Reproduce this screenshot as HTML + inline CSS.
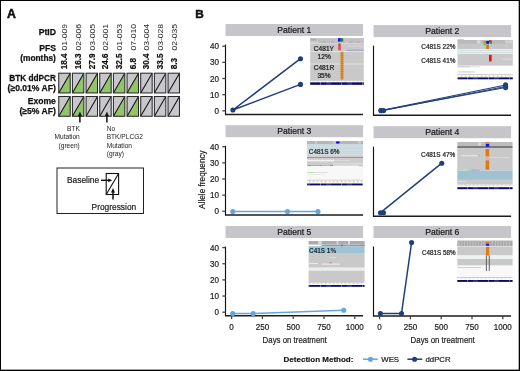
<!DOCTYPE html><html><head><meta charset="utf-8"><style>html,body{margin:0;padding:0;background:#fff;}body{width:520px;height:371px;overflow:hidden;}svg{display:block;will-change:transform;}text{font-family:"Liberation Sans",sans-serif;}</style></head><body>
<svg width="520" height="371" viewBox="0 0 520 371">
<rect x="0" y="0" width="520" height="371" fill="#fff"/>
<text x="7.0" y="17.5" font-size="12.3" font-weight="bold" fill="#111" stroke="#111" stroke-width="0.5">A</text>
<text transform="translate(55.9,35.4) scale(1.0,1)" font-size="8.6" font-weight="bold" text-anchor="end" fill="#111" stroke="#111" stroke-width="0.25">PtID</text>
<text transform="translate(55.9,51.4) scale(1.0,1)" font-size="8.6" font-weight="bold" text-anchor="end" fill="#111" stroke="#111" stroke-width="0.25">PFS</text>
<text transform="translate(55.9,61.0) scale(0.97,1)" font-size="8.6" font-weight="bold" text-anchor="end" fill="#111" stroke="#111" stroke-width="0.25">(months)</text>
<text transform="translate(55.9,80.6) scale(0.96,1)" font-size="8.6" font-weight="bold" text-anchor="end" fill="#111" stroke="#111" stroke-width="0.25">BTK ddPCR</text>
<text transform="translate(55.9,90.8) scale(1.0,1)" font-size="8.6" font-weight="bold" text-anchor="end" fill="#111" stroke="#111" stroke-width="0.25">(≥0.01% AF)</text>
<text transform="translate(55.9,103.8) scale(1.0,1)" font-size="8.6" font-weight="bold" text-anchor="end" fill="#111" stroke="#111" stroke-width="0.25">Exome</text>
<text transform="translate(55.9,113.5) scale(1.0,1)" font-size="8.6" font-weight="bold" text-anchor="end" fill="#111" stroke="#111" stroke-width="0.25">(≥5% AF)</text>
<rect x="58.75" y="73.20" width="11.45" height="19.75" fill="#c8c7cc"/><path d="M58.75 92.95 L70.20 73.20 L70.20 92.95 Z" fill="#92c469"/><path d="M58.75 92.95 L70.20 73.20" stroke="#111" stroke-width="1.05"/><rect x="58.75" y="73.20" width="11.45" height="19.75" fill="none" stroke="#2a2a2a" stroke-width="1.05"/>
<rect x="58.75" y="96.50" width="11.45" height="19.75" fill="#c8c7cc"/><path d="M58.75 116.25 L70.20 96.50 L70.20 116.25 Z" fill="#92c469"/><path d="M58.75 116.25 L70.20 96.50" stroke="#111" stroke-width="1.05"/><rect x="58.75" y="96.50" width="11.45" height="19.75" fill="none" stroke="#2a2a2a" stroke-width="1.05"/>
<text transform="translate(67.22,69.3) rotate(-90)" font-size="8.2" font-weight="bold" fill="#111" stroke="#111" stroke-width="0.2">18.4</text>
<text transform="translate(67.22,23.9) rotate(-90) scale(1.06,1)" font-size="8.1" text-anchor="end" fill="#262626">01-009</text>
<rect x="72.41" y="73.20" width="11.45" height="19.75" fill="#c8c7cc"/><path d="M72.41 92.95 L83.86 73.20 L83.86 92.95 Z" fill="#92c469"/><path d="M72.41 92.95 L83.86 73.20" stroke="#111" stroke-width="1.05"/><rect x="72.41" y="73.20" width="11.45" height="19.75" fill="none" stroke="#2a2a2a" stroke-width="1.05"/>
<rect x="72.41" y="96.50" width="11.45" height="19.75" fill="#c8c7cc"/><path d="M72.41 116.25 L83.86 96.50 L83.86 116.25 Z" fill="#92c469"/><path d="M72.41 116.25 L83.86 96.50" stroke="#111" stroke-width="1.05"/><rect x="72.41" y="96.50" width="11.45" height="19.75" fill="none" stroke="#2a2a2a" stroke-width="1.05"/>
<text transform="translate(80.88,69.3) rotate(-90)" font-size="8.2" font-weight="bold" fill="#111" stroke="#111" stroke-width="0.2">16.3</text>
<text transform="translate(80.88,23.9) rotate(-90) scale(1.06,1)" font-size="8.1" text-anchor="end" fill="#262626">02-006</text>
<rect x="86.07" y="73.20" width="11.45" height="19.75" fill="#c8c7cc"/><path d="M86.07 92.95 L97.52 73.20 L97.52 92.95 Z" fill="#92c469"/><path d="M86.07 92.95 L97.52 73.20" stroke="#111" stroke-width="1.05"/><rect x="86.07" y="73.20" width="11.45" height="19.75" fill="none" stroke="#2a2a2a" stroke-width="1.05"/>
<rect x="86.07" y="96.50" width="11.45" height="19.75" fill="#c8c7cc"/><path d="M86.07 116.25 L97.52 96.50" stroke="#111" stroke-width="1.05"/><rect x="86.07" y="96.50" width="11.45" height="19.75" fill="none" stroke="#2a2a2a" stroke-width="1.05"/>
<text transform="translate(94.54,69.3) rotate(-90)" font-size="8.2" font-weight="bold" fill="#111" stroke="#111" stroke-width="0.2">27.9</text>
<text transform="translate(94.54,23.9) rotate(-90) scale(1.06,1)" font-size="8.1" text-anchor="end" fill="#262626">03-005</text>
<rect x="99.73" y="73.20" width="11.45" height="19.75" fill="#c8c7cc"/><path d="M99.73 92.95 L111.18 73.20 L111.18 92.95 Z" fill="#92c469"/><path d="M99.73 92.95 L111.18 73.20" stroke="#111" stroke-width="1.05"/><rect x="99.73" y="73.20" width="11.45" height="19.75" fill="none" stroke="#2a2a2a" stroke-width="1.05"/>
<rect x="99.73" y="96.50" width="11.45" height="19.75" fill="#c8c7cc"/><path d="M99.73 116.25 L111.18 96.50" stroke="#111" stroke-width="1.05"/><rect x="99.73" y="96.50" width="11.45" height="19.75" fill="none" stroke="#2a2a2a" stroke-width="1.05"/>
<text transform="translate(108.20,69.3) rotate(-90)" font-size="8.2" font-weight="bold" fill="#111" stroke="#111" stroke-width="0.2">24.6</text>
<text transform="translate(108.20,23.9) rotate(-90) scale(1.06,1)" font-size="8.1" text-anchor="end" fill="#262626">02-001</text>
<rect x="113.39" y="73.20" width="11.45" height="19.75" fill="#c8c7cc"/><path d="M113.39 92.95 L124.84 73.20 L124.84 92.95 Z" fill="#92c469"/><path d="M113.39 92.95 L124.84 73.20" stroke="#111" stroke-width="1.05"/><rect x="113.39" y="73.20" width="11.45" height="19.75" fill="none" stroke="#2a2a2a" stroke-width="1.05"/>
<rect x="113.39" y="96.50" width="11.45" height="19.75" fill="#c8c7cc"/><path d="M113.39 116.25 L124.84 96.50 L124.84 116.25 Z" fill="#92c469"/><path d="M113.39 116.25 L124.84 96.50" stroke="#111" stroke-width="1.05"/><rect x="113.39" y="96.50" width="11.45" height="19.75" fill="none" stroke="#2a2a2a" stroke-width="1.05"/>
<text transform="translate(121.86,69.3) rotate(-90)" font-size="8.2" font-weight="bold" fill="#111" stroke="#111" stroke-width="0.2">32.5</text>
<text transform="translate(121.86,23.9) rotate(-90) scale(1.06,1)" font-size="8.1" text-anchor="end" fill="#262626">01-053</text>
<rect x="127.05" y="73.20" width="11.45" height="19.75" fill="#c8c7cc"/><path d="M127.05 92.95 L138.50 73.20 L138.50 92.95 Z" fill="#92c469"/><path d="M127.05 92.95 L138.50 73.20" stroke="#111" stroke-width="1.05"/><rect x="127.05" y="73.20" width="11.45" height="19.75" fill="none" stroke="#2a2a2a" stroke-width="1.05"/>
<rect x="127.05" y="96.50" width="11.45" height="19.75" fill="#c8c7cc"/><path d="M127.05 116.25 L138.50 96.50 L138.50 116.25 Z" fill="#92c469"/><path d="M127.05 116.25 L138.50 96.50" stroke="#111" stroke-width="1.05"/><rect x="127.05" y="96.50" width="11.45" height="19.75" fill="none" stroke="#2a2a2a" stroke-width="1.05"/>
<text transform="translate(135.53,69.3) rotate(-90)" font-size="8.2" font-weight="bold" fill="#111" stroke="#111" stroke-width="0.2">6.8</text>
<text transform="translate(135.53,23.9) rotate(-90) scale(1.06,1)" font-size="8.1" text-anchor="end" fill="#262626">07-010</text>
<rect x="140.71" y="73.20" width="11.45" height="19.75" fill="#c8c7cc"/><path d="M140.71 92.95 L152.16 73.20" stroke="#111" stroke-width="1.05"/><rect x="140.71" y="73.20" width="11.45" height="19.75" fill="none" stroke="#2a2a2a" stroke-width="1.05"/>
<rect x="140.71" y="96.50" width="11.45" height="19.75" fill="#c8c7cc"/><path d="M140.71 116.25 L152.16 96.50" stroke="#111" stroke-width="1.05"/><rect x="140.71" y="96.50" width="11.45" height="19.75" fill="none" stroke="#2a2a2a" stroke-width="1.05"/>
<text transform="translate(149.19,69.3) rotate(-90)" font-size="8.2" font-weight="bold" fill="#111" stroke="#111" stroke-width="0.2">30.4</text>
<text transform="translate(149.19,23.9) rotate(-90) scale(1.06,1)" font-size="8.1" text-anchor="end" fill="#262626">03-004</text>
<rect x="154.37" y="73.20" width="11.45" height="19.75" fill="#c8c7cc"/><path d="M154.37 92.95 L165.82 73.20" stroke="#111" stroke-width="1.05"/><rect x="154.37" y="73.20" width="11.45" height="19.75" fill="none" stroke="#2a2a2a" stroke-width="1.05"/>
<rect x="154.37" y="96.50" width="11.45" height="19.75" fill="#c8c7cc"/><path d="M154.37 116.25 L165.82 96.50" stroke="#111" stroke-width="1.05"/><rect x="154.37" y="96.50" width="11.45" height="19.75" fill="none" stroke="#2a2a2a" stroke-width="1.05"/>
<text transform="translate(162.84,69.3) rotate(-90)" font-size="8.2" font-weight="bold" fill="#111" stroke="#111" stroke-width="0.2">33.5</text>
<text transform="translate(162.84,23.9) rotate(-90) scale(1.06,1)" font-size="8.1" text-anchor="end" fill="#262626">03-028</text>
<rect x="168.03" y="73.20" width="11.45" height="19.75" fill="#c8c7cc"/><path d="M168.03 92.95 L179.48 73.20" stroke="#111" stroke-width="1.05"/><rect x="168.03" y="73.20" width="11.45" height="19.75" fill="none" stroke="#2a2a2a" stroke-width="1.05"/>
<rect x="168.03" y="96.50" width="11.45" height="19.75" fill="#c8c7cc"/><path d="M168.03 116.25 L179.48 96.50" stroke="#111" stroke-width="1.05"/><rect x="168.03" y="96.50" width="11.45" height="19.75" fill="none" stroke="#2a2a2a" stroke-width="1.05"/>
<text transform="translate(176.50,69.3) rotate(-90)" font-size="8.2" font-weight="bold" fill="#111" stroke="#111" stroke-width="0.2">8.3</text>
<text transform="translate(176.50,23.9) rotate(-90) scale(1.06,1)" font-size="8.1" text-anchor="end" fill="#262626">02-035</text>
<path d="M79.9 122.6 L79.9 115.5" stroke="#111" stroke-width="1.5"/><path d="M77.9 116.0 L79.9 111.6 L81.9 116.0 Z" fill="#111"/>
<path d="M106.9 122.6 L106.9 115.5" stroke="#111" stroke-width="1.5"/><path d="M104.9 116.0 L106.9 111.6 L108.9 116.0 Z" fill="#111"/>
<text x="79.8" y="130.9" font-size="6.6" text-anchor="end" fill="#222">BTK</text>
<text x="79.8" y="139.2" font-size="6.6" text-anchor="end" fill="#222">Mutation</text>
<text x="79.8" y="147.5" font-size="6.6" text-anchor="end" fill="#222">(green)</text>
<text x="106.7" y="130.9" font-size="6.6" fill="#222">No</text>
<text x="106.7" y="139.2" font-size="6.6" fill="#222">BTK/PLCG2</text>
<text x="106.7" y="147.5" font-size="6.6" fill="#222">Mutation</text>
<text x="106.7" y="155.8" font-size="6.6" fill="#222">(gray)</text>
<rect x="57" y="168" width="86.5" height="45.5" fill="none" stroke="#222" stroke-width="1"/>
<rect x="106.2" y="173.5" width="12.4" height="21" fill="#fff" stroke="#111" stroke-width="1.1"/>
<path d="M106.2 194.5 L118.6 173.5" stroke="#111" stroke-width="1.1"/>
<text transform="translate(67.0,183.2) scale(0.95,1)" font-size="8.8" fill="#1a1a1a" stroke="#1a1a1a" stroke-width="0.2">Baseline</text>
<path d="M101 180.3 L109 180.3" stroke="#111" stroke-width="1.4"/><path d="M108.2 178.4 L112.3 180.3 L108.2 182.2 Z" fill="#111"/>
<path d="M113 199.5 L113 191.9" stroke="#111" stroke-width="1.5"/><path d="M111.0 192.4 L113 188 L115.0 192.4 Z" fill="#111"/>
<text transform="translate(91.6,209.6) scale(0.95,1)" font-size="8.8" fill="#1a1a1a" stroke="#1a1a1a" stroke-width="0.2">Progression</text>
<text x="195.3" y="17.5" font-size="11.8" font-weight="bold" fill="#111" stroke="#111" stroke-width="0.5">B</text>
<rect x="225.5" y="24" width="137.6" height="12" fill="#c6c5ca"/>
<text x="294.3" y="32.8" font-size="8.6" text-anchor="middle" fill="#141414" stroke="#1a1a1a" stroke-width="0.2">Patient 1</text>
<path d="M225.5 44.5 L225.5 114.8" fill="none" stroke="#111" stroke-width="1.15"/>
<path d="M224.95 114.45 L363.1 114.45" fill="none" stroke="#1c1c1c" stroke-width="1.4"/>
<path d="M222.3 110.80 L225.5 110.80" stroke="#444" stroke-width="1.3"/>
<text transform="translate(219.0,113.90) scale(0.92,1)" font-size="8.8" text-anchor="end" fill="#1a1a1a" stroke="#1a1a1a" stroke-width="0.2">0</text>
<path d="M222.3 94.65 L225.5 94.65" stroke="#444" stroke-width="1.3"/>
<text transform="translate(219.0,97.75) scale(0.92,1)" font-size="8.8" text-anchor="end" fill="#1a1a1a" stroke="#1a1a1a" stroke-width="0.2">10</text>
<path d="M222.3 78.50 L225.5 78.50" stroke="#444" stroke-width="1.3"/>
<text transform="translate(219.0,81.60) scale(0.92,1)" font-size="8.8" text-anchor="end" fill="#1a1a1a" stroke="#1a1a1a" stroke-width="0.2">20</text>
<path d="M222.3 62.35 L225.5 62.35" stroke="#444" stroke-width="1.3"/>
<text transform="translate(219.0,65.45) scale(0.92,1)" font-size="8.8" text-anchor="end" fill="#1a1a1a" stroke="#1a1a1a" stroke-width="0.2">30</text>
<path d="M222.3 46.20 L225.5 46.20" stroke="#444" stroke-width="1.3"/>
<text transform="translate(219.0,49.30) scale(0.92,1)" font-size="8.8" text-anchor="end" fill="#1a1a1a" stroke="#1a1a1a" stroke-width="0.2">40</text>
<rect x="373.5" y="25.1" width="137.6" height="12" fill="#c6c5ca"/>
<text x="442.3" y="33.900000000000006" font-size="8.6" text-anchor="middle" fill="#141414" stroke="#1a1a1a" stroke-width="0.2">Patient 2</text>
<path d="M373.5 45.6 L373.5 115.6" fill="none" stroke="#111" stroke-width="1.15"/>
<path d="M372.95 115.25 L511.1 115.25" fill="none" stroke="#1c1c1c" stroke-width="1.4"/>
<rect x="225.5" y="125.2" width="137.6" height="12" fill="#c6c5ca"/>
<text x="294.3" y="134.0" font-size="8.6" text-anchor="middle" fill="#141414" stroke="#1a1a1a" stroke-width="0.2">Patient 3</text>
<path d="M225.5 145.7 L225.5 215.4" fill="none" stroke="#111" stroke-width="1.15"/>
<path d="M224.95 215.05 L363.1 215.05" fill="none" stroke="#1c1c1c" stroke-width="1.4"/>
<path d="M222.3 211.30 L225.5 211.30" stroke="#444" stroke-width="1.3"/>
<text transform="translate(219.0,214.40) scale(0.92,1)" font-size="8.8" text-anchor="end" fill="#1a1a1a" stroke="#1a1a1a" stroke-width="0.2">0</text>
<path d="M222.3 195.15 L225.5 195.15" stroke="#444" stroke-width="1.3"/>
<text transform="translate(219.0,198.25) scale(0.92,1)" font-size="8.8" text-anchor="end" fill="#1a1a1a" stroke="#1a1a1a" stroke-width="0.2">10</text>
<path d="M222.3 179.00 L225.5 179.00" stroke="#444" stroke-width="1.3"/>
<text transform="translate(219.0,182.10) scale(0.92,1)" font-size="8.8" text-anchor="end" fill="#1a1a1a" stroke="#1a1a1a" stroke-width="0.2">20</text>
<path d="M222.3 162.85 L225.5 162.85" stroke="#444" stroke-width="1.3"/>
<text transform="translate(219.0,165.95) scale(0.92,1)" font-size="8.8" text-anchor="end" fill="#1a1a1a" stroke="#1a1a1a" stroke-width="0.2">30</text>
<path d="M222.3 146.70 L225.5 146.70" stroke="#444" stroke-width="1.3"/>
<text transform="translate(219.0,149.80) scale(0.92,1)" font-size="8.8" text-anchor="end" fill="#1a1a1a" stroke="#1a1a1a" stroke-width="0.2">40</text>
<rect x="373.5" y="126.2" width="137.6" height="12" fill="#c6c5ca"/>
<text x="442.3" y="135.0" font-size="8.6" text-anchor="middle" fill="#141414" stroke="#1a1a1a" stroke-width="0.2">Patient 4</text>
<path d="M373.5 146.7 L373.5 216.6" fill="none" stroke="#111" stroke-width="1.15"/>
<path d="M372.95 216.25 L511.1 216.25" fill="none" stroke="#1c1c1c" stroke-width="1.4"/>
<rect x="225.5" y="226" width="137.6" height="12" fill="#c6c5ca"/>
<text x="294.3" y="234.8" font-size="8.6" text-anchor="middle" fill="#141414" stroke="#1a1a1a" stroke-width="0.2">Patient 5</text>
<path d="M225.5 246.5 L225.5 316.1" fill="none" stroke="#111" stroke-width="1.15"/>
<path d="M224.95 315.75 L363.1 315.75" fill="none" stroke="#1c1c1c" stroke-width="1.4"/>
<path d="M222.3 312.20 L225.5 312.20" stroke="#444" stroke-width="1.3"/>
<text transform="translate(219.0,315.30) scale(0.92,1)" font-size="8.8" text-anchor="end" fill="#1a1a1a" stroke="#1a1a1a" stroke-width="0.2">0</text>
<path d="M222.3 296.05 L225.5 296.05" stroke="#444" stroke-width="1.3"/>
<text transform="translate(219.0,299.15) scale(0.92,1)" font-size="8.8" text-anchor="end" fill="#1a1a1a" stroke="#1a1a1a" stroke-width="0.2">10</text>
<path d="M222.3 279.90 L225.5 279.90" stroke="#444" stroke-width="1.3"/>
<text transform="translate(219.0,283.00) scale(0.92,1)" font-size="8.8" text-anchor="end" fill="#1a1a1a" stroke="#1a1a1a" stroke-width="0.2">20</text>
<path d="M222.3 263.75 L225.5 263.75" stroke="#444" stroke-width="1.3"/>
<text transform="translate(219.0,266.85) scale(0.92,1)" font-size="8.8" text-anchor="end" fill="#1a1a1a" stroke="#1a1a1a" stroke-width="0.2">30</text>
<path d="M222.3 247.60 L225.5 247.60" stroke="#444" stroke-width="1.3"/>
<text transform="translate(219.0,250.70) scale(0.92,1)" font-size="8.8" text-anchor="end" fill="#1a1a1a" stroke="#1a1a1a" stroke-width="0.2">40</text>
<path d="M231.60 315.5 L231.60 319.1" stroke="#444" stroke-width="1.3"/>
<text transform="translate(231.60,329.70) scale(0.92,1)" font-size="8.8" text-anchor="middle" fill="#1a1a1a" stroke="#1a1a1a" stroke-width="0.2">0</text>
<path d="M262.40 315.5 L262.40 319.1" stroke="#444" stroke-width="1.3"/>
<text transform="translate(262.40,329.70) scale(0.92,1)" font-size="8.8" text-anchor="middle" fill="#1a1a1a" stroke="#1a1a1a" stroke-width="0.2">250</text>
<path d="M293.20 315.5 L293.20 319.1" stroke="#444" stroke-width="1.3"/>
<text transform="translate(293.20,329.70) scale(0.92,1)" font-size="8.8" text-anchor="middle" fill="#1a1a1a" stroke="#1a1a1a" stroke-width="0.2">500</text>
<path d="M324.00 315.5 L324.00 319.1" stroke="#444" stroke-width="1.3"/>
<text transform="translate(324.00,329.70) scale(0.92,1)" font-size="8.8" text-anchor="middle" fill="#1a1a1a" stroke="#1a1a1a" stroke-width="0.2">750</text>
<path d="M354.80 315.5 L354.80 319.1" stroke="#444" stroke-width="1.3"/>
<text transform="translate(354.80,329.70) scale(0.92,1)" font-size="8.8" text-anchor="middle" fill="#1a1a1a" stroke="#1a1a1a" stroke-width="0.2">1000</text>
<text transform="translate(294.70,342.6) scale(0.82,1)" font-size="9.6" text-anchor="middle" fill="#1a1a1a" stroke="#1a1a1a" stroke-width="0.2">Days on treatment</text>
<rect x="373.5" y="226" width="137.6" height="12" fill="#c6c5ca"/>
<text x="442.3" y="234.8" font-size="8.6" text-anchor="middle" fill="#141414" stroke="#1a1a1a" stroke-width="0.2">Patient 6</text>
<path d="M373.5 246.5 L373.5 316.3" fill="none" stroke="#111" stroke-width="1.15"/>
<path d="M372.95 315.95 L511.1 315.95" fill="none" stroke="#1c1c1c" stroke-width="1.4"/>
<path d="M379.60 315.7 L379.60 319.3" stroke="#444" stroke-width="1.3"/>
<text transform="translate(379.60,329.90) scale(0.92,1)" font-size="8.8" text-anchor="middle" fill="#1a1a1a" stroke="#1a1a1a" stroke-width="0.2">0</text>
<path d="M410.40 315.7 L410.40 319.3" stroke="#444" stroke-width="1.3"/>
<text transform="translate(410.40,329.90) scale(0.92,1)" font-size="8.8" text-anchor="middle" fill="#1a1a1a" stroke="#1a1a1a" stroke-width="0.2">250</text>
<path d="M441.20 315.7 L441.20 319.3" stroke="#444" stroke-width="1.3"/>
<text transform="translate(441.20,329.90) scale(0.92,1)" font-size="8.8" text-anchor="middle" fill="#1a1a1a" stroke="#1a1a1a" stroke-width="0.2">500</text>
<path d="M472.00 315.7 L472.00 319.3" stroke="#444" stroke-width="1.3"/>
<text transform="translate(472.00,329.90) scale(0.92,1)" font-size="8.8" text-anchor="middle" fill="#1a1a1a" stroke="#1a1a1a" stroke-width="0.2">750</text>
<path d="M502.80 315.7 L502.80 319.3" stroke="#444" stroke-width="1.3"/>
<text transform="translate(502.80,329.90) scale(0.92,1)" font-size="8.8" text-anchor="middle" fill="#1a1a1a" stroke="#1a1a1a" stroke-width="0.2">1000</text>
<text transform="translate(442.70,342.6) scale(0.82,1)" font-size="9.6" text-anchor="middle" fill="#1a1a1a" stroke="#1a1a1a" stroke-width="0.2">Days on treatment</text>
<text transform="translate(204.5,179.6) rotate(-90) scale(0.86,1)" font-size="9.6" text-anchor="middle" fill="#1a1a1a" stroke="#1a1a1a" stroke-width="0.2">Allele frequency</text>
<path d="M300.50 58.70 L232.90 110.00 L300.50 84.40" fill="none" stroke="#1f3f7b" stroke-width="1.5"/><circle cx="300.50" cy="58.70" r="2.55" fill="#1f3f7b"/><circle cx="232.90" cy="110.00" r="2.55" fill="#1f3f7b"/><circle cx="300.50" cy="84.40" r="2.55" fill="#1f3f7b"/>
<path d="M381.00 110.60 L505.60 84.90" fill="none" stroke="#1f3f7b" stroke-width="1.05"/><circle cx="381.00" cy="110.60" r="2.55" fill="#1f3f7b"/><circle cx="505.60" cy="84.90" r="2.55" fill="#1f3f7b"/>
<path d="M383.60 110.60 L505.60 86.40" fill="none" stroke="#1f3f7b" stroke-width="1.05"/><circle cx="383.60" cy="110.60" r="2.55" fill="#1f3f7b"/><circle cx="505.60" cy="86.40" r="2.55" fill="#1f3f7b"/>
<path d="M381.00 110.60 L505.60 87.60" fill="none" stroke="#1f3f7b" stroke-width="1.05"/><circle cx="381.00" cy="110.60" r="2.55" fill="#1f3f7b"/><circle cx="505.60" cy="87.60" r="2.55" fill="#1f3f7b"/>
<path d="M232.70 211.50 L287.50 211.50 L318.00 211.50" fill="none" stroke="#62a6de" stroke-width="1.5"/><circle cx="232.70" cy="211.50" r="2.55" fill="#62a6de"/><circle cx="287.50" cy="211.50" r="2.55" fill="#62a6de"/><circle cx="318.00" cy="211.50" r="2.55" fill="#62a6de"/>
<path d="M380.50 212.70 L441.80 163.20" fill="none" stroke="#1f3f7b" stroke-width="1.5"/><circle cx="380.50" cy="212.70" r="2.55" fill="#1f3f7b"/><circle cx="441.80" cy="163.20" r="2.55" fill="#1f3f7b"/>
<path d="M383.50 212.70" fill="none" stroke="#1f3f7b" stroke-width="1.5"/><circle cx="383.50" cy="212.70" r="2.55" fill="#1f3f7b"/>
<path d="M232.70 313.50 L253.20 313.50 L343.80 310.20" fill="none" stroke="#62a6de" stroke-width="1.5"/><circle cx="232.70" cy="313.50" r="2.55" fill="#62a6de"/><circle cx="253.20" cy="313.50" r="2.55" fill="#62a6de"/><circle cx="343.80" cy="310.20" r="2.55" fill="#62a6de"/>
<path d="M380.40 313.50 L401.50 313.50 L411.60 242.50" fill="none" stroke="#1f3f7b" stroke-width="1.5"/><circle cx="380.40" cy="313.50" r="2.55" fill="#1f3f7b"/><circle cx="401.50" cy="313.50" r="2.55" fill="#1f3f7b"/><circle cx="411.60" cy="242.50" r="2.55" fill="#1f3f7b"/>
<text x="283.6" y="361.9" font-size="8" font-weight="bold" fill="#111" stroke="#111" stroke-width="0.15">Detection Method:</text>
<path d="M363 359.2 L377.7 359.2" stroke="#62a6de" stroke-width="1.5"/><circle cx="370.5" cy="359.2" r="2.55" fill="#62a6de"/>
<text x="381.3" y="361.9" font-size="7.8" fill="#1a1a1a" stroke="#1a1a1a" stroke-width="0.2">WES</text>
<path d="M407.4 359.2 L422.3 359.2" stroke="#1f3f7b" stroke-width="1.5"/><circle cx="414.6" cy="359.2" r="2.55" fill="#1f3f7b"/>
<text x="425.5" y="361.9" font-size="7.8" fill="#1a1a1a" stroke="#1a1a1a" stroke-width="0.2">ddPCR</text>
<defs><pattern id="dots" x="0" y="0" width="16" height="3" patternUnits="userSpaceOnUse"><rect width="16" height="3" fill="#fbfbf5"/><rect x="0.8" y="0.6" width="1.6" height="1.8" fill="#e6d08c"/><rect x="4.8" y="0.6" width="1.6" height="1.8" fill="#eec0b4"/><rect x="8.8" y="0.6" width="1.6" height="1.8" fill="#c6e4b0"/><rect x="12.8" y="0.6" width="1.6" height="1.8" fill="#e8d49c"/></pattern><pattern id="navy" x="0" y="0" width="21" height="3" patternUnits="userSpaceOnUse"><rect width="21" height="3" fill="#0a0a6c"/><rect x="5" y="0" width="1" height="3" fill="#6060a8"/><rect x="11" y="0" width="5" height="3" fill="#2a2a90"/></pattern></defs>
<rect x="310.20" y="38.20" width="53.60" height="46.60" fill="#c9c9c9"/><rect x="310.20" y="38.20" width="53.60" height="2.80" fill="#c2c2c2"/><rect x="310.70" y="38.60" width="0.60" height="2.00" fill="#9a9a9a"/><rect x="311.90" y="38.60" width="0.60" height="2.00" fill="#9a9a9a"/><rect x="313.10" y="38.60" width="0.60" height="2.00" fill="#9a9a9a"/><rect x="314.30" y="38.60" width="0.60" height="2.00" fill="#9a9a9a"/><rect x="315.50" y="38.60" width="0.60" height="2.00" fill="#9a9a9a"/><rect x="310.20" y="41.00" width="53.60" height="1.80" fill="#cacaca"/><rect x="319.00" y="41.60" width="3.73" height="1.10" fill="#8fbf6f"/><rect x="322.73" y="41.60" width="3.73" height="1.10" fill="#9f8fdf"/><rect x="326.47" y="41.60" width="3.73" height="1.10" fill="#e0a070"/><rect x="330.20" y="41.60" width="3.73" height="1.10" fill="#7f9fef"/><rect x="333.93" y="41.60" width="3.73" height="1.10" fill="#df8fbf"/><rect x="337.67" y="41.60" width="3.73" height="1.10" fill="#8fd08f"/><rect x="341.40" y="41.60" width="3.73" height="1.10" fill="#9f9fef"/><rect x="345.13" y="41.60" width="3.73" height="1.10" fill="#efb070"/><rect x="348.87" y="41.60" width="3.73" height="1.10" fill="#8f8fdf"/><rect x="352.60" y="41.60" width="3.73" height="1.10" fill="#7fcf7f"/><rect x="356.33" y="41.60" width="3.73" height="1.10" fill="#df7f7f"/><rect x="360.07" y="41.60" width="3.73" height="1.10" fill="#9fafef"/><rect x="310.20" y="42.80" width="53.60" height="0.60" fill="#ececec"/><rect x="348.00" y="45.80" width="15.80" height="0.60" fill="#e6e6e6"/><rect x="346.50" y="49.80" width="17.30" height="0.80" fill="#9090d0"/><rect x="310.20" y="51.00" width="53.60" height="0.60" fill="#f0f0f0"/><rect x="310.20" y="63.70" width="53.60" height="0.60" fill="#f0f0f0"/><rect x="338.00" y="38.20" width="2.80" height="3.40" fill="#1010f0"/><rect x="340.80" y="38.20" width="2.40" height="3.40" fill="#109010"/><rect x="338.20" y="43.30" width="2.60" height="7.00" fill="#e8454a"/><rect x="340.60" y="51.80" width="2.80" height="27.80" fill="#dc8a2c"/><rect x="340.60" y="53.00" width="2.80" height="0.60" fill="#c87a20"/><rect x="340.60" y="55.00" width="2.80" height="0.60" fill="#c87a20"/><rect x="340.60" y="57.00" width="2.80" height="0.60" fill="#c87a20"/><rect x="340.60" y="59.00" width="2.80" height="0.60" fill="#c87a20"/><rect x="340.60" y="61.00" width="2.80" height="0.60" fill="#c87a20"/><rect x="340.60" y="63.00" width="2.80" height="0.60" fill="#c87a20"/><rect x="340.60" y="65.00" width="2.80" height="0.60" fill="#c87a20"/><rect x="340.60" y="67.00" width="2.80" height="0.60" fill="#c87a20"/><rect x="340.60" y="69.00" width="2.80" height="0.60" fill="#c87a20"/><rect x="340.60" y="71.00" width="2.80" height="0.60" fill="#c87a20"/><rect x="340.60" y="73.00" width="2.80" height="0.60" fill="#c87a20"/><rect x="340.60" y="75.00" width="2.80" height="0.60" fill="#c87a20"/><rect x="340.60" y="77.00" width="2.80" height="0.60" fill="#c87a20"/><rect x="310.20" y="80.00" width="53.60" height="2.20" fill="url(#dots)"/><rect x="310.20" y="80.00" width="53.60" height="0.60" fill="#b8b8b8"/><rect x="310.20" y="82.40" width="53.60" height="2.40" fill="url(#navy)"/><rect x="457.60" y="40.00" width="55.20" height="25.60" fill="#c9c9c9"/><rect x="457.60" y="39.00" width="6.40" height="0.60" fill="#b0b0b0"/><rect x="457.60" y="40.00" width="55.20" height="3.80" fill="#b9b9b9"/><rect x="477.00" y="40.20" width="3.60" height="3.40" fill="#d8d8d8"/><rect x="505.00" y="40.20" width="7.80" height="3.40" fill="#d0d0d0"/><rect x="457.60" y="44.00" width="55.20" height="4.80" fill="#c6c6c6"/><rect x="483.60" y="41.20" width="2.60" height="2.00" fill="#e08020"/><rect x="486.20" y="41.00" width="2.80" height="2.80" fill="#1010e0"/><rect x="489.00" y="40.20" width="2.60" height="1.80" fill="#e02020"/><rect x="489.60" y="42.00" width="2.40" height="1.80" fill="#20a020"/><rect x="483.60" y="43.60" width="2.60" height="1.80" fill="#40e040"/><rect x="486.20" y="44.60" width="2.80" height="4.40" fill="#d07a20"/><rect x="457.60" y="49.00" width="55.20" height="5.00" fill="#e9eff1"/><rect x="457.60" y="50.00" width="55.20" height="0.50" fill="#c0d0d6"/><rect x="457.60" y="52.00" width="55.20" height="0.50" fill="#c0d0d6"/><rect x="489.00" y="54.80" width="2.70" height="6.60" fill="#f01010"/><rect x="502.70" y="58.80" width="10.10" height="0.60" fill="#ececec"/><rect x="457.60" y="66.40" width="12.40" height="0.90" fill="#b8b8b8"/><rect x="470.00" y="66.40" width="10.00" height="0.90" fill="#dcdcdc"/><rect x="457.60" y="71.50" width="17.10" height="0.90" fill="#c4c4c4"/><rect x="457.60" y="74.00" width="55.20" height="3.00" fill="url(#dots)"/><rect x="457.60" y="74.00" width="55.20" height="0.60" fill="#b8b8b8"/><rect x="457.60" y="77.40" width="55.20" height="1.90" fill="url(#navy)"/><rect x="307.00" y="141.00" width="56.00" height="3.00" fill="#b6b6b6"/><rect x="315.00" y="141.40" width="2.00" height="2.20" fill="#d0d0d0"/><rect x="333.00" y="141.40" width="3.00" height="2.20" fill="#d0d0d0"/><rect x="358.00" y="141.40" width="3.00" height="2.20" fill="#d0d0d0"/><rect x="307.00" y="144.00" width="56.00" height="12.80" fill="#c9d9df"/><rect x="307.00" y="146.50" width="56.00" height="0.50" fill="#d8e4e8"/><rect x="307.00" y="150.50" width="56.00" height="0.50" fill="#d8e4e8"/><rect x="307.00" y="154.00" width="56.00" height="0.50" fill="#d8e4e8"/><rect x="335.8" y="141.5" width="3.8" height="2.1" rx="1" fill="#0a0ae0"/><rect x="307.00" y="156.80" width="56.00" height="1.10" fill="#d46a6a"/><rect x="307.00" y="157.90" width="56.00" height="7.30" fill="#cccccc"/><rect x="307.00" y="159.80" width="27.00" height="1.60" fill="#f2f2f2"/><rect x="334.00" y="160.00" width="16.00" height="1.00" fill="#dcdcdc"/><rect x="333.00" y="162.60" width="30.00" height="2.20" fill="#d8d8d8"/><rect x="307.60" y="165.00" width="3.66" height="1.20" fill="#7f8fdf"/><rect x="311.26" y="165.00" width="3.66" height="1.20" fill="#e0a070"/><rect x="314.91" y="165.00" width="3.66" height="1.20" fill="#df8fbf"/><rect x="318.57" y="165.00" width="3.66" height="1.20" fill="#a090e0"/><rect x="322.23" y="165.00" width="3.66" height="1.20" fill="#8fd08f"/><rect x="325.89" y="165.00" width="3.66" height="1.20" fill="#90e090"/><rect x="329.54" y="165.00" width="3.66" height="1.20" fill="#7f8fdf"/><rect x="333.20" y="165.00" width="29.80" height="1.00" fill="#dadada"/><rect x="358.80" y="165.60" width="3.60" height="1.40" fill="#e0a060"/><rect x="307.00" y="166.20" width="56.00" height="13.40" fill="#f8f8f8"/><rect x="307.00" y="172.00" width="21.00" height="0.80" fill="#dadada"/><rect x="307.00" y="174.00" width="19.00" height="0.60" fill="#e2e2e2"/><rect x="308.80" y="172.00" width="4.70" height="0.80" fill="#9fdf9f"/><rect x="307.00" y="179.80" width="56.00" height="3.20" fill="url(#dots)"/><rect x="307.00" y="179.80" width="56.00" height="0.60" fill="#b8b8b8"/><rect x="307.00" y="183.50" width="56.00" height="1.90" fill="url(#navy)"/><rect x="457.30" y="142.00" width="55.30" height="4.00" fill="#bcbcbc"/><rect x="478.00" y="142.20" width="3.00" height="3.60" fill="#d4d4d4"/><rect x="457.30" y="146.00" width="55.30" height="2.00" fill="#7a7a7a"/><rect x="457.30" y="148.00" width="55.30" height="22.60" fill="#c9c9c9"/><rect x="461.00" y="155.40" width="17.00" height="0.80" fill="#f4f4f4"/><rect x="478.00" y="155.40" width="2.50" height="0.80" fill="#60e060"/><rect x="490.00" y="157.00" width="20.00" height="0.70" fill="#dedede"/><rect x="485.60" y="142.20" width="3.60" height="1.70" fill="#e08020"/><rect x="485.80" y="144.00" width="3.40" height="2.70" fill="#1010e8"/><rect x="485.60" y="149.00" width="3.60" height="7.60" fill="#e07a10"/><rect x="485.60" y="156.60" width="3.60" height="3.80" fill="#d6b6a6"/><rect x="485.60" y="160.40" width="3.60" height="9.30" fill="#e07a10"/><rect x="463.50" y="169.70" width="4.12" height="0.90" fill="#e8e8e8"/><rect x="467.62" y="169.70" width="4.12" height="0.90" fill="#8fdf8f"/><rect x="471.75" y="169.70" width="4.12" height="0.90" fill="#8f8fef"/><rect x="475.88" y="169.70" width="4.12" height="0.90" fill="#bf8fdf"/><rect x="457.30" y="170.60" width="55.30" height="9.30" fill="#9fc1d1"/><rect x="457.30" y="179.90" width="55.30" height="4.30" fill="#c9c9c9"/><rect x="457.30" y="181.00" width="8.70" height="0.60" fill="#e8e8e8"/><rect x="457.30" y="184.60" width="55.30" height="2.00" fill="url(#dots)"/><rect x="457.30" y="184.60" width="55.30" height="0.60" fill="#b8b8b8"/><rect x="457.30" y="187.20" width="55.30" height="2.00" fill="url(#navy)"/><rect x="308.60" y="241.00" width="56.00" height="3.60" fill="#ababab"/><rect x="318.00" y="241.00" width="3.70" height="3.60" fill="#d8d8d8"/><rect x="336.60" y="241.00" width="1.80" height="3.60" fill="#d8d8d8"/><rect x="348.00" y="241.00" width="2.00" height="3.60" fill="#d8d8d8"/><rect x="321.70" y="244.80" width="42.90" height="1.40" fill="#8f8fdf"/><rect x="324.00" y="244.80" width="3.00" height="1.40" fill="#60d060"/><rect x="339.00" y="244.80" width="2.00" height="1.40" fill="#60d060"/><rect x="341.00" y="244.80" width="2.00" height="1.40" fill="#e03030"/><rect x="347.00" y="244.80" width="3.00" height="1.40" fill="#70d070"/><rect x="360.00" y="244.80" width="4.60" height="1.40" fill="#e07070"/><rect x="308.60" y="246.20" width="56.00" height="6.80" fill="#9ec3d2"/><rect x="308.60" y="253.00" width="56.00" height="14.70" fill="#c9c9c9"/><rect x="329.00" y="257.00" width="7.00" height="0.60" fill="#ececec"/><rect x="308.60" y="263.20" width="9.40" height="0.80" fill="#f2f2f2"/><rect x="322.00" y="263.60" width="18.00" height="1.00" fill="#f2f2f2"/><rect x="329.00" y="262.40" width="3.00" height="0.80" fill="#e07070"/><rect x="308.60" y="267.70" width="56.00" height="3.00" fill="#ececec"/><rect x="308.60" y="270.70" width="56.00" height="11.30" fill="#c9c9c9"/><rect x="308.60" y="282.20" width="56.00" height="2.20" fill="url(#dots)"/><rect x="308.60" y="282.20" width="56.00" height="0.60" fill="#b8b8b8"/><rect x="308.60" y="285.00" width="56.00" height="1.80" fill="url(#navy)"/><rect x="457.30" y="240.60" width="55.30" height="5.40" fill="#a9a9a9"/><rect x="458.50" y="240.60" width="0.90" height="5.40" fill="#c6c6c6"/><rect x="461.30" y="240.60" width="0.90" height="5.40" fill="#c6c6c6"/><rect x="464.10" y="240.60" width="0.90" height="5.40" fill="#c6c6c6"/><rect x="466.90" y="240.60" width="0.90" height="5.40" fill="#c6c6c6"/><rect x="469.70" y="240.60" width="0.90" height="5.40" fill="#c6c6c6"/><rect x="472.50" y="240.60" width="0.90" height="5.40" fill="#c6c6c6"/><rect x="475.30" y="240.60" width="0.90" height="5.40" fill="#c6c6c6"/><rect x="478.10" y="240.60" width="0.90" height="5.40" fill="#c6c6c6"/><rect x="480.90" y="240.60" width="0.90" height="5.40" fill="#c6c6c6"/><rect x="483.70" y="240.60" width="0.90" height="5.40" fill="#c6c6c6"/><rect x="486.50" y="240.60" width="0.90" height="5.40" fill="#c6c6c6"/><rect x="489.30" y="240.60" width="0.90" height="5.40" fill="#c6c6c6"/><rect x="492.10" y="240.60" width="0.90" height="5.40" fill="#c6c6c6"/><rect x="494.90" y="240.60" width="0.90" height="5.40" fill="#c6c6c6"/><rect x="497.70" y="240.60" width="0.90" height="5.40" fill="#c6c6c6"/><rect x="500.50" y="240.60" width="0.90" height="5.40" fill="#c6c6c6"/><rect x="503.30" y="240.60" width="0.90" height="5.40" fill="#c6c6c6"/><rect x="506.10" y="240.60" width="0.90" height="5.40" fill="#c6c6c6"/><rect x="508.90" y="240.60" width="0.90" height="5.40" fill="#c6c6c6"/><rect x="457.30" y="246.40" width="55.30" height="9.00" fill="#c9c9c9"/><rect x="457.30" y="255.40" width="55.30" height="3.60" fill="#eef2f2"/><rect x="457.30" y="259.00" width="55.30" height="6.60" fill="#c9c9c9"/><rect x="475.50" y="260.40" width="2.30" height="0.60" fill="#9fdf9f"/><rect x="505.80" y="266.00" width="3.00" height="1.00" fill="#3030d0"/><rect x="457.60" y="267.00" width="23.20" height="0.80" fill="#cacaca"/><rect x="457.30" y="265.60" width="55.30" height="11.40" fill="#f8f8f8"/><rect x="457.60" y="267.00" width="23.20" height="0.80" fill="#c4c4c4"/><rect x="485.80" y="241.80" width="3.40" height="1.80" fill="#e07a10"/><rect x="486.00" y="243.80" width="3.20" height="1.90" fill="#1010e0"/><rect x="486.00" y="247.00" width="3.20" height="8.50" fill="#e07a10"/><rect x="485.90" y="255.50" width="0.90" height="15.50" fill="#555"/><rect x="488.80" y="255.50" width="0.90" height="15.50" fill="#555"/><rect x="457.30" y="277.00" width="55.30" height="2.50" fill="url(#dots)"/><rect x="457.30" y="277.00" width="55.30" height="0.60" fill="#b8b8b8"/><rect x="457.30" y="280.00" width="55.30" height="1.90" fill="url(#navy)"/>
<text transform="translate(323.9,50.6) scale(1.0,1)" font-size="6.6" text-anchor="middle" fill="#1c1c1c" stroke="#1c1c1c" stroke-width="0.22">C481Y</text>
<text transform="translate(324.2,59.3) scale(1.0,1)" font-size="6.6" text-anchor="middle" fill="#1c1c1c" stroke="#1c1c1c" stroke-width="0.22">12%</text>
<text transform="translate(323.9,70.3) scale(1.0,1)" font-size="6.6" text-anchor="middle" fill="#1c1c1c" stroke="#1c1c1c" stroke-width="0.22">C481R</text>
<text transform="translate(324.0,78.1) scale(1.0,1)" font-size="6.6" text-anchor="middle" fill="#1c1c1c" stroke="#1c1c1c" stroke-width="0.22">35%</text>
<text transform="translate(455.4,49.1) scale(1.0,1)" font-size="6.4" text-anchor="end" fill="#1c1c1c" stroke="#1c1c1c" stroke-width="0.22">C481S 22%</text>
<text transform="translate(455.4,63.1) scale(1.0,1)" font-size="6.4" text-anchor="end" fill="#1c1c1c" stroke="#1c1c1c" stroke-width="0.22">C481S 41%</text>
<text transform="translate(308.8,153.5) scale(0.92,1)" font-size="7.0" text-anchor="start" fill="#1c1c1c" stroke="#1c1c1c" stroke-width="0.22">C481S 6%</text>
<text transform="translate(455.2,156.9) scale(1.0,1)" font-size="6.4" text-anchor="end" fill="#1c1c1c" stroke="#1c1c1c" stroke-width="0.22">C481S 47%</text>
<text x="309.1" y="252.8" font-size="6.4" font-weight="bold" fill="#1a262c">C41S 1%</text>
<text transform="translate(455.5,254.7) scale(1.0,1)" font-size="6.3" text-anchor="end" fill="#1c1c1c" stroke="#1c1c1c" stroke-width="0.22">C481S 58%</text>
<rect x="0" y="0" width="520" height="1" fill="#000"/><rect x="0" y="0" width="1" height="371" fill="#000"/><rect x="518.7" y="0" width="1.3" height="371" fill="#000"/><rect x="0" y="369.65" width="520" height="1.35" fill="#000"/>
</svg></body></html>
